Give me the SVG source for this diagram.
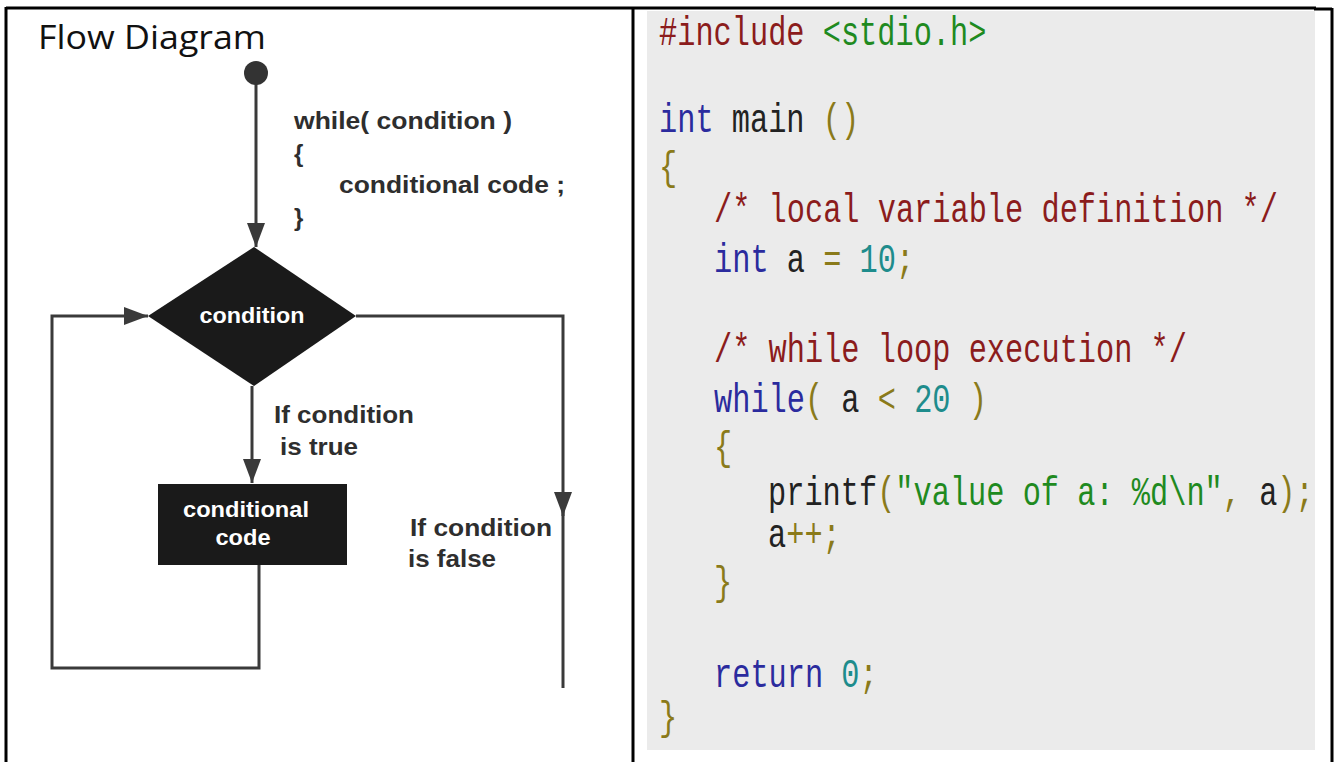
<svg xmlns="http://www.w3.org/2000/svg" width="1335" height="762" viewBox="0 0 1335 762">
<style>
.border{stroke:#000;stroke-width:3;fill:none}
.conn{stroke:#3a3a3a;stroke-width:3;fill:none}
.lbl{font-family:"Liberation Sans",Arial,sans-serif;font-weight:bold;font-size:24px;fill:#2e2e2e}
.wl{font-family:"Liberation Sans",Arial,sans-serif;font-weight:bold;font-size:22px;fill:#fff;text-anchor:middle}
.code{font-family:"Liberation Mono","Courier New",monospace;font-size:40px;fill:#222;white-space:pre}
.dr{fill:#8b1c1c}.gr{fill:#1f8a1f}.nv{fill:#2b2b9e}.tl{fill:#1e8c8c}.ol{fill:#8a7a1a}.bk{fill:#222}
</style>
<defs>
<marker id="ah" viewBox="0 0 24 18" refX="24" refY="9" markerWidth="24" markerHeight="18" markerUnits="userSpaceOnUse" orient="auto">
<path d="M0,0 L24,9 L0,18 Z" fill="#3a3a3a"/>
</marker>
</defs>
<rect width="1335" height="762" fill="#fff"/>
<g id="table">
<line class="border" x1="6" y1="8" x2="1316" y2="8"/>
<line class="border" x1="1314" y1="9" x2="1332" y2="9"/>
<line class="border" x1="6" y1="7" x2="6" y2="762"/>
<line class="border" x1="633" y1="7" x2="633" y2="762"/>
<line class="border" x1="1332" y1="8" x2="1332" y2="762"/>
<rect x="647" y="11" width="668" height="739" fill="#ebebeb"/>
</g>
<text id="title" x="38" y="49" font-family="'Open Sans','Noto Sans',sans-serif" font-size="32" fill="#111" textLength="228" lengthAdjust="spacingAndGlyphs">Flow Diagram</text>
<g id="connectors">
<line class="conn" x1="256" y1="84" x2="256" y2="247" marker-end="url(#ah)"/>
<line class="conn" x1="252" y1="386" x2="252" y2="483" marker-end="url(#ah)"/>
<polyline class="conn" points="356,316 563,316 563,516" marker-end="url(#ah)"/>
<line class="conn" x1="563" y1="510" x2="563" y2="688"/>
<polyline class="conn" points="259,565 259,668 52,668 52,316 148,316" marker-end="url(#ah)"/>
</g>
<g id="start"><circle cx="256" cy="73" r="12" fill="#333"/></g>
<g id="syntax">
<text class="lbl" x="294" y="129" textLength="218" lengthAdjust="spacingAndGlyphs">while( condition )</text>
<text class="lbl" x="294" y="162">{</text>
<text class="lbl" x="339" y="193" textLength="226" lengthAdjust="spacingAndGlyphs">conditional code ;</text>
<text class="lbl" x="294" y="226">}</text>
</g>
<g id="condition">
<polygon points="254,247 356,316 254,386 148,316" fill="#1a1a1a"/>
<text class="wl" x="252" y="323" textLength="105" lengthAdjust="spacingAndGlyphs">condition</text>
</g>
<g id="true-label">
<text class="lbl" x="274" y="423" textLength="140" lengthAdjust="spacingAndGlyphs">If condition</text>
<text class="lbl" x="280" y="455" textLength="78" lengthAdjust="spacingAndGlyphs">is true</text>
</g>
<g id="code-block">
<rect x="158" y="484" width="189" height="81" fill="#1a1a1a"/>
<text class="wl" x="246" y="517" textLength="126" lengthAdjust="spacingAndGlyphs">conditional</text>
<text class="wl" x="243" y="545" textLength="55" lengthAdjust="spacingAndGlyphs">code</text>
</g>
<g id="false-label">
<text class="lbl" x="410" y="536" textLength="142" lengthAdjust="spacingAndGlyphs">If condition</text>
<text class="lbl" x="408" y="567" textLength="88" lengthAdjust="spacingAndGlyphs">is false</text>
</g>
<g id="code" class="code">
<text transform="translate(659 45) scale(0.758 1)"><tspan class="dr">#include </tspan><tspan class="gr">&lt;stdio.h&gt;</tspan></text>
<text transform="translate(659 132) scale(0.758 1)"><tspan class="nv">int</tspan><tspan class="bk"> main </tspan><tspan class="ol">()</tspan></text>
<text transform="translate(659 180) scale(0.758 1)" class="ol">{</text>
<text transform="translate(714 222) scale(0.758 1)" class="dr">/* local variable definition */</text>
<text transform="translate(714 272) scale(0.758 1)"><tspan class="nv">int</tspan><tspan class="bk"> a </tspan><tspan class="ol">= </tspan><tspan class="tl">10</tspan><tspan class="ol">;</tspan></text>
<text transform="translate(714 362) scale(0.758 1)" class="dr">/* while loop execution */</text>
<text transform="translate(714 412) scale(0.758 1)"><tspan class="nv">while</tspan><tspan class="ol">( </tspan><tspan class="bk">a </tspan><tspan class="ol">&lt; </tspan><tspan class="tl">20 </tspan><tspan class="ol">)</tspan></text>
<text transform="translate(714 460) scale(0.758 1)" class="ol">{</text>
<text transform="translate(768 505) scale(0.758 1)"><tspan class="bk">printf</tspan><tspan class="ol">(</tspan><tspan class="gr">"value of a: %d\n"</tspan><tspan class="ol">, </tspan><tspan class="bk">a</tspan><tspan class="ol">);</tspan></text>
<text transform="translate(768 547) scale(0.758 1)"><tspan class="bk">a</tspan><tspan class="ol">++;</tspan></text>
<text transform="translate(714 595) scale(0.758 1)" class="ol">}</text>
<text transform="translate(714 687) scale(0.758 1)"><tspan class="nv">return </tspan><tspan class="tl">0</tspan><tspan class="ol">;</tspan></text>
<text transform="translate(659 730) scale(0.758 1)" class="ol">}</text>
</g>
</svg>
